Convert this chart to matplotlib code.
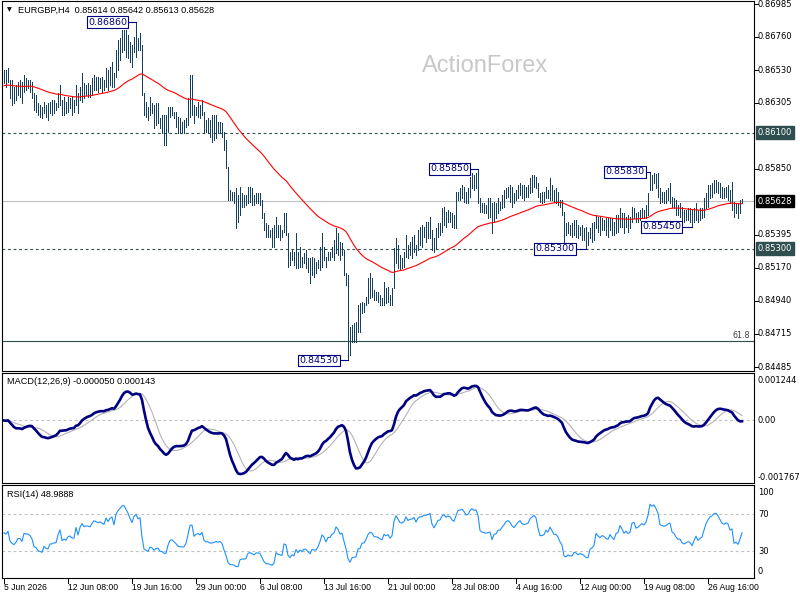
import numpy as np
import pandas as pd
import matplotlib
matplotlib.use("Agg")
import matplotlib.pyplot as plt
from matplotlib import transforms as mtrans

W, H = 800, 600

# EURGBP H4 bar highs / lows, in 1e-5 above 0.84000 (bar 0 = 5 Jun 00:00)
high_pts = [
    2530, 2530, 2542, 2461, 2461, 2415, 2427, 2450, 2461, 2450,
    2496, 2473, 2461, 2461, 2450, 2369, 2358, 2301, 2289, 2278,
    2312, 2289, 2301, 2312, 2324, 2324, 2301, 2369, 2427, 2324,
    2346, 2312, 2346, 2335, 2346, 2324, 2427, 2369, 2415, 2507,
    2438, 2427, 2438, 2427, 2473, 2496, 2484, 2484, 2473, 2484,
    2461, 2542, 2530, 2553, 2588, 2507, 2668, 2737, 2748, 2806,
    2806, 2806, 2771, 2725, 2702, 2760, 2860, 2748, 2783, 2702,
    2369, 2312, 2278, 2346, 2301, 2289, 2301, 2301, 2197, 2220,
    2220, 2220, 2278, 2278, 2278, 2243, 2243, 2209, 2197, 2174,
    2186, 2197, 2335, 2496, 2496, 2289, 2278, 2312, 2289, 2324,
    2243, 2186, 2197, 2186, 2220, 2220, 2220, 2174, 2174, 2163,
    2105, 2048, 1864, 1704, 1692, 1692, 1715, 1669, 1727, 1681,
    1669, 1669, 1727, 1727, 1715, 1669, 1681, 1681, 1681, 1635,
    1543, 1474, 1463, 1428, 1440, 1463, 1520, 1463, 1463, 1428,
    1543, 1543, 1405, 1279, 1290, 1279, 1405, 1279, 1313, 1244,
    1267, 1290, 1233, 1233, 1244, 1233, 1210, 1222, 1313, 1405,
    1313, 1244, 1279, 1279, 1313, 1359, 1440, 1405, 1348, 1336,
    1290, 1130, 1118, 762, 774, 785, 797, 912, 923, 935,
    923, 969, 1095, 1130, 1095, 1015, 1003, 1003, 981, 958,
    1073, 1027, 1038, 981, 1027, 1302, 1371, 1325, 1256, 1233,
    1279, 1394, 1325, 1348, 1382, 1394, 1325, 1428, 1451, 1463,
    1451, 1486, 1486, 1520, 1428, 1371, 1440, 1474, 1474, 1578,
    1589, 1555, 1566, 1555, 1543, 1532, 1692, 1692, 1715, 1738,
    1727, 1692, 1715, 1796, 1819, 1807, 1819, 1850, 1647, 1612,
    1612, 1601, 1647, 1647, 1612, 1624, 1612, 1647, 1624, 1669,
    1704, 1716, 1727, 1739, 1727, 1681, 1704, 1739, 1750, 1739,
    1739, 1727, 1739, 1785, 1808, 1808, 1796, 1750, 1681, 1693,
    1693, 1727, 1704, 1785, 1739, 1704, 1716, 1693, 1635, 1635,
    1555, 1475, 1486, 1463, 1475, 1498, 1498, 1463, 1452, 1463,
    1440, 1452, 1417, 1440, 1475, 1486, 1532, 1521, 1521, 1509,
    1498, 1509, 1509, 1509, 1509, 1486, 1532, 1532, 1578, 1544,
    1544, 1521, 1532, 1521, 1590, 1578, 1544, 1555, 1567, 1578,
    1567, 1601, 1681, 1830, 1808, 1819, 1815, 1819, 1716, 1693,
    1693, 1704, 1716, 1750, 1658, 1647, 1635, 1601, 1613, 1590,
    1567, 1567, 1578, 1578, 1567, 1578, 1613, 1567, 1578, 1578,
    1647, 1681, 1739, 1739, 1750, 1773, 1773, 1762, 1750, 1727,
    1716, 1727, 1739, 1704, 1762, 1624, 1613, 1613, 1635, 1642,
]
low_pts = [
    2438, 2415, 2450, 2335, 2289, 2301, 2324, 2358, 2346, 2301,
    2381, 2392, 2404, 2381, 2335, 2255, 2243, 2220, 2209, 2197,
    2232, 2209, 2186, 2232, 2220, 2232, 2255, 2278, 2289, 2220,
    2220, 2232, 2243, 2266, 2220, 2243, 2289, 2232, 2324, 2312,
    2335, 2358, 2346, 2346, 2358, 2392, 2392, 2381, 2404, 2381,
    2392, 2415, 2392, 2427, 2415, 2415, 2484, 2530, 2599, 2656,
    2668, 2622, 2611, 2588, 2553, 2656, 2622, 2668, 2668, 2358,
    2220, 2209, 2186, 2220, 2232, 2128, 2151, 2163, 2128, 2094,
    2014, 2014, 2105, 2209, 2220, 2197, 2140, 2094, 2094, 2105,
    2094, 2140, 2151, 2209, 2220, 2163, 2220, 2209, 2197, 2220,
    2094, 2105, 2094, 2071, 2037, 2048, 2059, 2094, 2105, 2071,
    1979, 1853, 1635, 1635, 1635, 1612, 1440, 1485, 1531, 1589,
    1589, 1600, 1612, 1623, 1600, 1600, 1612, 1612, 1600, 1508,
    1428, 1382, 1382, 1382, 1313, 1313, 1382, 1382, 1359, 1382,
    1417, 1394, 1176, 1187, 1222, 1187, 1164, 1164, 1176, 1176,
    1199, 1164, 1141, 1061, 1118, 1107, 1130, 1164, 1153, 1176,
    1222, 1176, 1222, 1222, 1244, 1222, 1267, 1256, 1222, 1256,
    1118, 1049, 530, 567, 659, 659, 659, 728, 728, 854,
    866, 912, 923, 957, 969, 946, 946, 935, 912, 912,
    912, 923, 935, 912, 912, 1027, 1199, 1164, 1153, 1164,
    1176, 1245, 1233, 1256, 1233, 1279, 1256, 1291, 1325, 1314,
    1382, 1348, 1371, 1371, 1291, 1279, 1302, 1382, 1394, 1417,
    1463, 1451, 1486, 1486, 1451, 1440, 1440, 1635, 1635, 1647,
    1624, 1612, 1612, 1658, 1715, 1704, 1715, 1612, 1555, 1555,
    1543, 1543, 1509, 1520, 1405, 1486, 1509, 1543, 1566, 1578,
    1589, 1647, 1658, 1624, 1590, 1613, 1635, 1647, 1670, 1647,
    1635, 1658, 1658, 1681, 1693, 1727, 1716, 1658, 1624, 1613,
    1624, 1647, 1647, 1635, 1635, 1624, 1613, 1601, 1590, 1532,
    1349, 1394, 1406, 1394, 1383, 1394, 1383, 1371, 1394, 1360,
    1360, 1300, 1326, 1371, 1349, 1360, 1440, 1417, 1394, 1429,
    1429, 1394, 1383, 1429, 1394, 1394, 1406, 1417, 1452, 1452,
    1406, 1452, 1417, 1440, 1486, 1509, 1486, 1486, 1498, 1509,
    1509, 1509, 1532, 1704, 1704, 1750, 1716, 1658, 1613, 1624,
    1613, 1613, 1635, 1613, 1590, 1578, 1532, 1532, 1521, 1486,
    1486, 1498, 1498, 1486, 1450, 1486, 1498, 1486, 1498, 1509,
    1521, 1578, 1590, 1647, 1658, 1681, 1693, 1681, 1658, 1647,
    1647, 1658, 1635, 1613, 1567, 1521, 1544, 1509, 1544, 1613,
]

ma_start = 0.8642          # value of the 55 EMA at the first bar
rsi_seed = 0.00015         # starting average gain / loss for RSI(14)
level_dashed = [0.86100, 0.85300]
last_price = 0.85628
fib_level = 0.84665
fib_text = "61.8"

price_ticks = [0.86985, 0.86760, 0.86530, 0.86305, 0.85850, 0.85395,
               0.85170, 0.84940, 0.84715, 0.84485]
marked_bars = [66, 237, 323, 172, 291, 344]
marked_side = ["high", "high", "high", "low", "low", "low"]

date_bars = [0, 32, 64, 96, 128, 160, 192, 224, 256, 288, 320, 352]
date_labels = ["5 Jun 2026", "12 Jun 08:00", "19 Jun 16:00", "29 Jun 00:00",
               "6 Jul 08:00", "13 Jul 16:00", "21 Jul 00:00", "28 Jul 08:00",
               "4 Aug 16:00", "12 Aug 00:00", "19 Aug 08:00", "26 Aug 16:00"]

header = "EURGBP,H4  0.85614 0.85642 0.85613 0.85628"
macd_title = "MACD(12,26,9) -0.000050 0.000143"
rsi_title = "RSI(14) 48.9888"
macd_ticks = [0.001244, 0.0, -0.001767]
macd_tick_txt = ["0.001244", "0.00", "-0.001767"]
rsi_ticks = [100, 70, 30, 0]

high = 0.84 + np.array(high_pts) / 1e5
low = 0.84 + np.array(low_pts) / 1e5
idx = np.arange(len(high))
# bars are too thin to read the close, so indicators use the bar midpoint
mid = pd.Series((high + low) / 2)

ma = pd.concat([pd.Series([ma_start]), mid], ignore_index=True)
ma = ma.ewm(span=55, adjust=False).mean().to_numpy()[1:]

macd = mid.ewm(span=12, adjust=False).mean() - mid.ewm(span=26, adjust=False).mean()
signal = macd.rolling(9, min_periods=1).mean()

delta = mid.diff()
up = delta.clip(lower=0)
dn = -delta.clip(upper=0)
up.iloc[0] = rsi_seed
dn.iloc[0] = rsi_seed
gain = up.ewm(alpha=1 / 14, adjust=False).mean()
loss = dn.ewm(alpha=1 / 14, adjust=False).mean()
rsi = 100 - 100 / (1 + gain / loss)

BAR_C = "#163f5c"
SLATE = "#2f4f4f"
NAVY = "#000080"


def px_rect(x0, y0, x1, y1):
    return [x0 / W, 1 - y1 / H, (x1 - x0) / W, (y1 - y0) / H]


def fy(y):
    return 1 - y / H


fig = plt.figure(figsize=(W / 100, H / 100), dpi=100)
ax = fig.add_axes(px_rect(2, 1, 754, 371))
ax_m = fig.add_axes(px_rect(2, 373, 754, 483))
ax_r = fig.add_axes(px_rect(2, 485, 754, 578))

for a in (ax, ax_m, ax_r):
    a.set_xlim(-1, 375)
    a.set_xticks([])
    a.set_yticks([])
    for s in a.spines.values():
        s.set_linewidth(0.8)
        s.set_color("black")

# main price panel
pp = 0.025 / 363
ax.set_ylim(0.84485 - 4 * pp, 0.86985 + 3 * pp)
ax.text(0.643, 0.823, "ActionForex", transform=ax.transAxes, ha="center", va="center",
        fontsize=17, family="Liberation Sans", color="#c8c8c8", zorder=0)
for lv in level_dashed:
    ax.axhline(lv, color=SLATE, lw=0.8, ls=(0, (2.5, 2.5)), zorder=1)
ax.axhline(last_price, color="#c0c0c0", lw=0.8, zorder=1)
ax.axhline(fib_level, color=SLATE, lw=0.8, zorder=1)
ax.text(373, fib_level + 0.00003, fib_text, ha="right", va="bottom", fontsize=5.8,
        family="DejaVu Sans", color="#404040")
ax.vlines(idx, low, high, colors=BAR_C, lw=0.7, antialiased=False, zorder=2)
ax.plot(idx, ma, color="red", lw=0.8, zorder=3)

gaps = [4.5, 4.5, 2.5, 4.5, 5.5, 5.5]
for b, side, g in zip(marked_bars, marked_side, gaps):
    v = high[b] if side == "high" else low[b]
    ax.plot([b - g, b], [v, v], color=NAVY, lw=0.8, zorder=4)
    ax.text(b - g, v, f"{v:.5f}", ha="right", va="center", fontsize=6.8, color=NAVY,
            zorder=5, bbox=dict(boxstyle="square,pad=0.15", fc="white", ec=NAVY, lw=0.8))

tr = mtrans.blended_transform_factory(fig.transFigure, ax.transData)
for v in price_ticks:
    ax.text(758 / W, v, f"{v:.5f}", transform=tr, ha="left", va="center", fontsize=6)
    ax.plot([1, 1.005], [v, v], transform=mtrans.blended_transform_factory(ax.transAxes, ax.transData),
            color="black", lw=0.7, clip_on=False)
for v, fc in [(level_dashed[0], SLATE), (last_price, "black"), (level_dashed[1], SLATE)]:
    ax.text(758 / W, v, f"{v:.5f}", transform=tr, ha="left", va="center", fontsize=6,
            color="white", bbox=dict(boxstyle="square,pad=0.2", fc=fc, ec=fc))

fig.text(7 / W, fy(10), "\u25bc", fontsize=4.5, va="center")
fig.text(18 / W, fy(10), header, fontsize=6.6, family="Liberation Sans", va="center")

# MACD panel
ax_m.set_ylim(-0.001948, 0.001478)
ax_m.axhline(0, color="#c0c0c0", lw=0.8, ls=(0, (2.5, 2.5)))
ax_m.plot(idx, signal, color="#b4b4b4", lw=0.8)
ax_m.plot(idx, macd, color=NAVY, lw=1.9)
ax_m.text(5 / 752, 0.92, macd_title, transform=ax_m.transAxes, va="center", fontsize=6.6,
          family="Liberation Sans")
trm = mtrans.blended_transform_factory(fig.transFigure, ax_m.transData)
for v, t in zip(macd_ticks, macd_tick_txt):
    ax_m.text(758 / W, v, t, transform=trm, ha="left", va="center", fontsize=6)

# RSI panel
ax_r.set_ylim(1.1, 101.7)
for lv in (70, 30):
    ax_r.axhline(lv, color="#c0c0c0", lw=0.8, ls=(0, (2.5, 2.5)))
ax_r.plot(idx, rsi, color="#1e90ff", lw=0.8)
ax_r.text(5 / 752, 0.9, rsi_title, transform=ax_r.transAxes, va="center", fontsize=6.6,
          family="Liberation Sans")
rsi_px = {100: 492.7, 70: 514.3, 30: 551.3, 0: 572}
for v in rsi_ticks:
    fig.text(758 / W, fy(rsi_px[v]), str(v), ha="left", va="center", fontsize=6)

# time axis
trx = mtrans.blended_transform_factory(ax_r.transData, fig.transFigure)
for b, t in zip(date_bars, date_labels):
    ax_r.plot([b, b], [fy(578), fy(583)], transform=trx, color="black", lw=0.7, clip_on=False)
    ax_r.text(b, fy(588), t, transform=trx, ha="left", va="center", fontsize=6.2,
              family="Liberation Sans")

fig.savefig("out.png", dpi=100, facecolor="white")
